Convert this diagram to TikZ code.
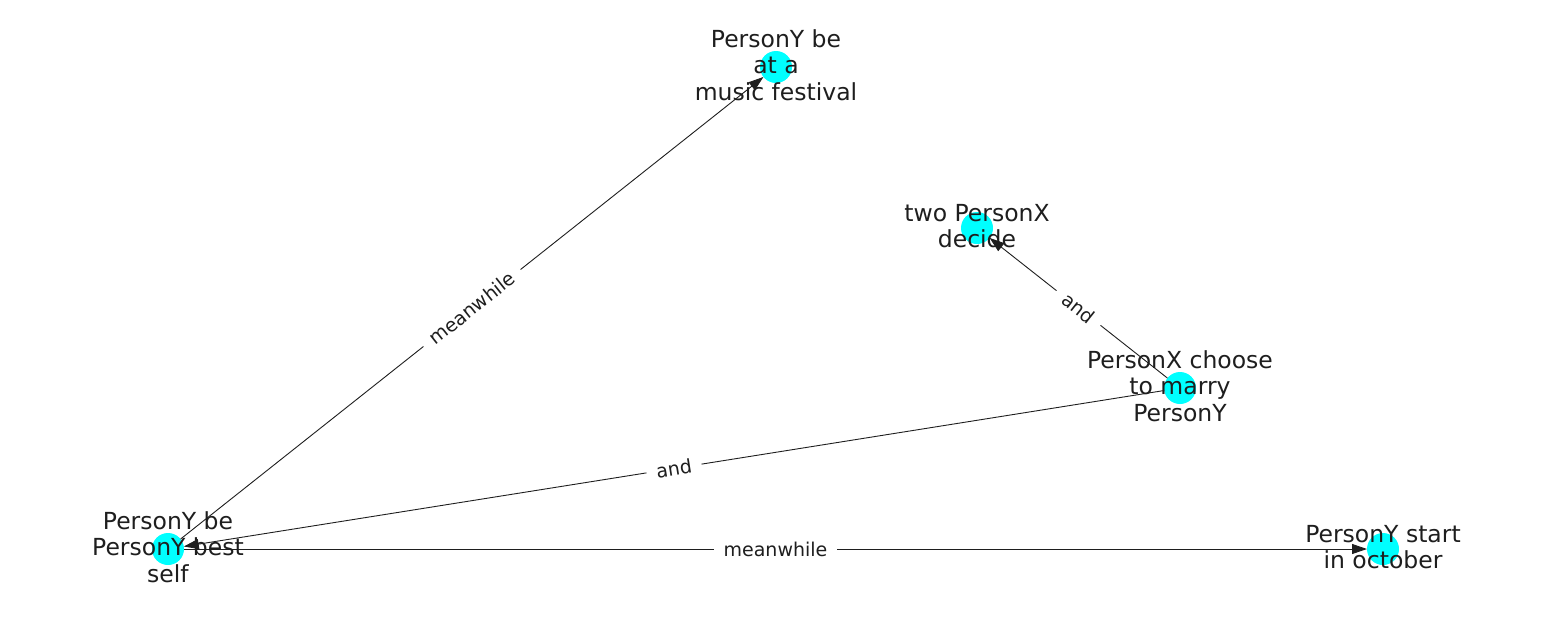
\documentclass[tikz,border=0pt]{standalone}
\usepackage{fontspec}
\setmainfont{DejaVu Sans}
\usetikzlibrary{arrows.meta}
\definecolor{nodecyan}{RGB}{0,255,255}
\definecolor{ink}{RGB}{30,30,30}
\begin{document}
\begin{tikzpicture}[x=1pt,y=-1pt,
  dot/.style={circle,fill=nodecyan,draw=none,minimum size=32pt,inner sep=0pt,outer sep=0pt},
  txt/.style={align=center,text=ink,font=\fontsize{23.5}{26.3}\selectfont,inner sep=0pt,yshift=2pt},
  conn/.style={draw=ink,line width=0.9pt,-{Triangle[length=15pt,width=10pt]}},
  elab/.style={fill=white,inner xsep=10pt,inner ysep=5pt,text=ink,font=\fontsize{19}{22}\selectfont}]
\useasboundingbox (0,0) rectangle (1550,616);
\node[dot] (A) at (776,67) {};
\node[dot] (B) at (977,228) {};
\node[dot] (C) at (1180,388) {};
\node[dot] (D) at (168,549) {};
\node[dot] (E) at (1383,549) {};
\draw[conn] (D) -- node[elab,sloped] {meanwhile} (A);
\draw[conn] (C) -- node[elab,sloped] {and} (B);
\draw[conn] (C) -- node[elab,sloped] {and} (D);
\draw[conn] (D) -- node[elab] {meanwhile} (E);
\node[txt] (tA) at (A) {PersonY be\\at a\\music festival};
\node[txt] (tB) at (B) {two PersonX\\decide};
\node[txt] (tC) at (C) {PersonX choose\\to marry\\PersonY};
\node[txt] (tD) at (D) {PersonY be\\PersonY best\\self};
\node[txt] (tE) at (E) {PersonY start\\in october};
\end{tikzpicture}
\end{document}
